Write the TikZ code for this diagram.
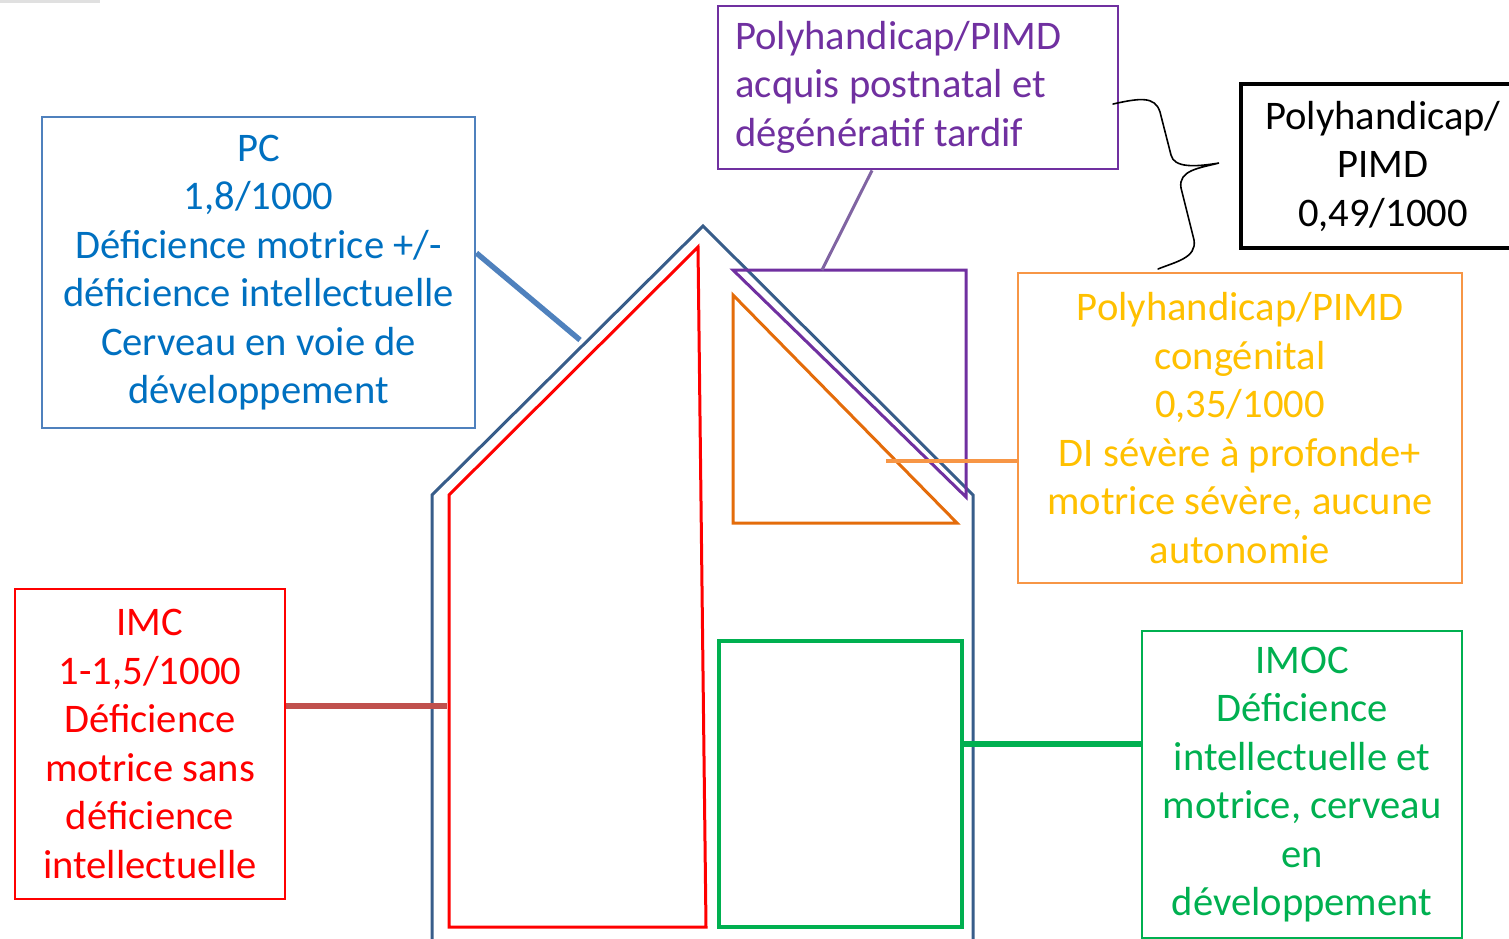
\documentclass[tikz,border=0pt]{standalone}
\usepackage{fontspec}
\setmainfont{Carlito}
\definecolor{pcblue}{HTML}{0070C0}
\definecolor{pcline}{HTML}{4F81BD}
\definecolor{house}{HTML}{385D8A}
\definecolor{imcline}{HTML}{C0504D}
\definecolor{purp}{HTML}{7030A0}
\definecolor{purpline}{HTML}{8064A2}
\definecolor{orgtri}{HTML}{E46C0A}
\definecolor{orgline}{HTML}{F79646}
\definecolor{gold}{HTML}{FFC000}
\definecolor{grn}{HTML}{00B050}
\tikzset{
  lbl/.style={font=\fontsize{20.3}{24.25}\selectfont, align=center, inner sep=0pt},
  boxed/.style={lbl, draw, line width=1.4pt},
  conn/.style={line width=2.7pt},
}
\begin{document}
\begin{tikzpicture}[x=0.5pt,y=-0.5pt]
\useasboundingbox (0,0) rectangle (1509,938);
\clip (0,0) rectangle (1509,938);
\fill[black!12] (0,0) rectangle (100,3);
% house
\coordinate (hbl) at (432,945);
\coordinate (hl) at (432,495);
\coordinate (apex) at (703,226);
\coordinate (hr) at (973,495);
\coordinate (hbr) at (973,945);
\draw[house, line width=1.5pt, line join=miter] (hbl) -- (hl) -- (apex) -- (hr) -- (hbr);
% red shape
\draw[red, line width=1.5pt] (449,927) -- (449,495) -- (698,247) -- (706,927) -- cycle;
% purple triangle
\draw[purp, line width=1.5pt] (733,270) -- (966,270) -- (966,497) -- cycle;
% orange triangle
\draw[orgtri, line width=1.5pt] (733,295) -- (733,523) -- (957,523) -- cycle;
% green rect
\draw[grn, line width=1.6pt] (719,641) rectangle (962,927);
% boxes
\node[boxed, draw=pcline, text=pcblue, minimum width=216.5pt, minimum height=155.5pt] (pc) at (258.5,272.5)
  {PC\\1,8/1000\\Déficience motrice +/-\\déficience intellectuelle\\Cerveau en voie de\\développement};
\node[boxed, draw=red, text=red, minimum width=135pt, minimum height=155pt] (imc) at (150,744)
  {IMC\\1-1,5/1000\\Déficience\\motrice sans\\déficience\\intellectuelle};
\node[boxed, draw=purp, minimum width=200pt, minimum height=81.5pt] (pol) at (918,87.5) {};
\node[lbl, text=purp, align=left, anchor=west] (poltxt) at (735,87)
  {Polyhandicap/PIMD\\acquis postnatal et\\dégénératif tardif};
\node[boxed, draw=black, line width=2pt, text=black, minimum width=142pt, minimum height=82pt] (pimd) at (1383,166)
  {Polyhandicap/\\PIMD\\0,49/1000};
\node[boxed, draw=orgline, line width=1.2pt, text=gold, minimum width=222pt, minimum height=155pt] (cong) at (1240,428)
  {Polyhandicap/PIMD\\congénital\\0,35/1000\\DI sévère à profonde+\\motrice sévère, aucune\\autonomie};
\node[boxed, draw=grn, line width=1.1pt, text=grn, minimum width=160pt, minimum height=153.5pt] (imoc) at (1302,784.5)
  {IMOC\\Déficience\\intellectuelle et\\motrice, cerveau\\en\\développement};
% connectors
\coordinate (pcend) at (580,340);
\coordinate (polend) at (822,270);
\coordinate (orgend) at (886,461);
\coordinate (imcend) at (447,706);
\coordinate (grnend) at (963,744);
\draw[conn, pcline] (pc.east |- 0,253) -- (pcend);
\draw[line width=1.5pt, purpline] (pol.south -| 872,0) -- (polend);
\draw[line width=1.7pt, orgline] (cong.west |- 0,461) -- (orgend);
\draw[conn, imcline] (imc.east |- 0,706) -- (imcend);
\draw[line width=3pt, grn] (imoc.west |- 0,744) -- (grnend);
% brace
\draw[black, line width=0.8pt, line cap=round]
  (1113,104) .. controls (1140,98) and (1155,96) .. (1160,112)
  -- (1171,155) .. controls (1174,168) and (1195,167) .. (1219,163)
  .. controls (1200,168) and (1178,170) .. (1181,188)
  -- (1194,240) .. controls (1197,258) and (1175,262) .. (1158,269);
\end{tikzpicture}
\end{document}
